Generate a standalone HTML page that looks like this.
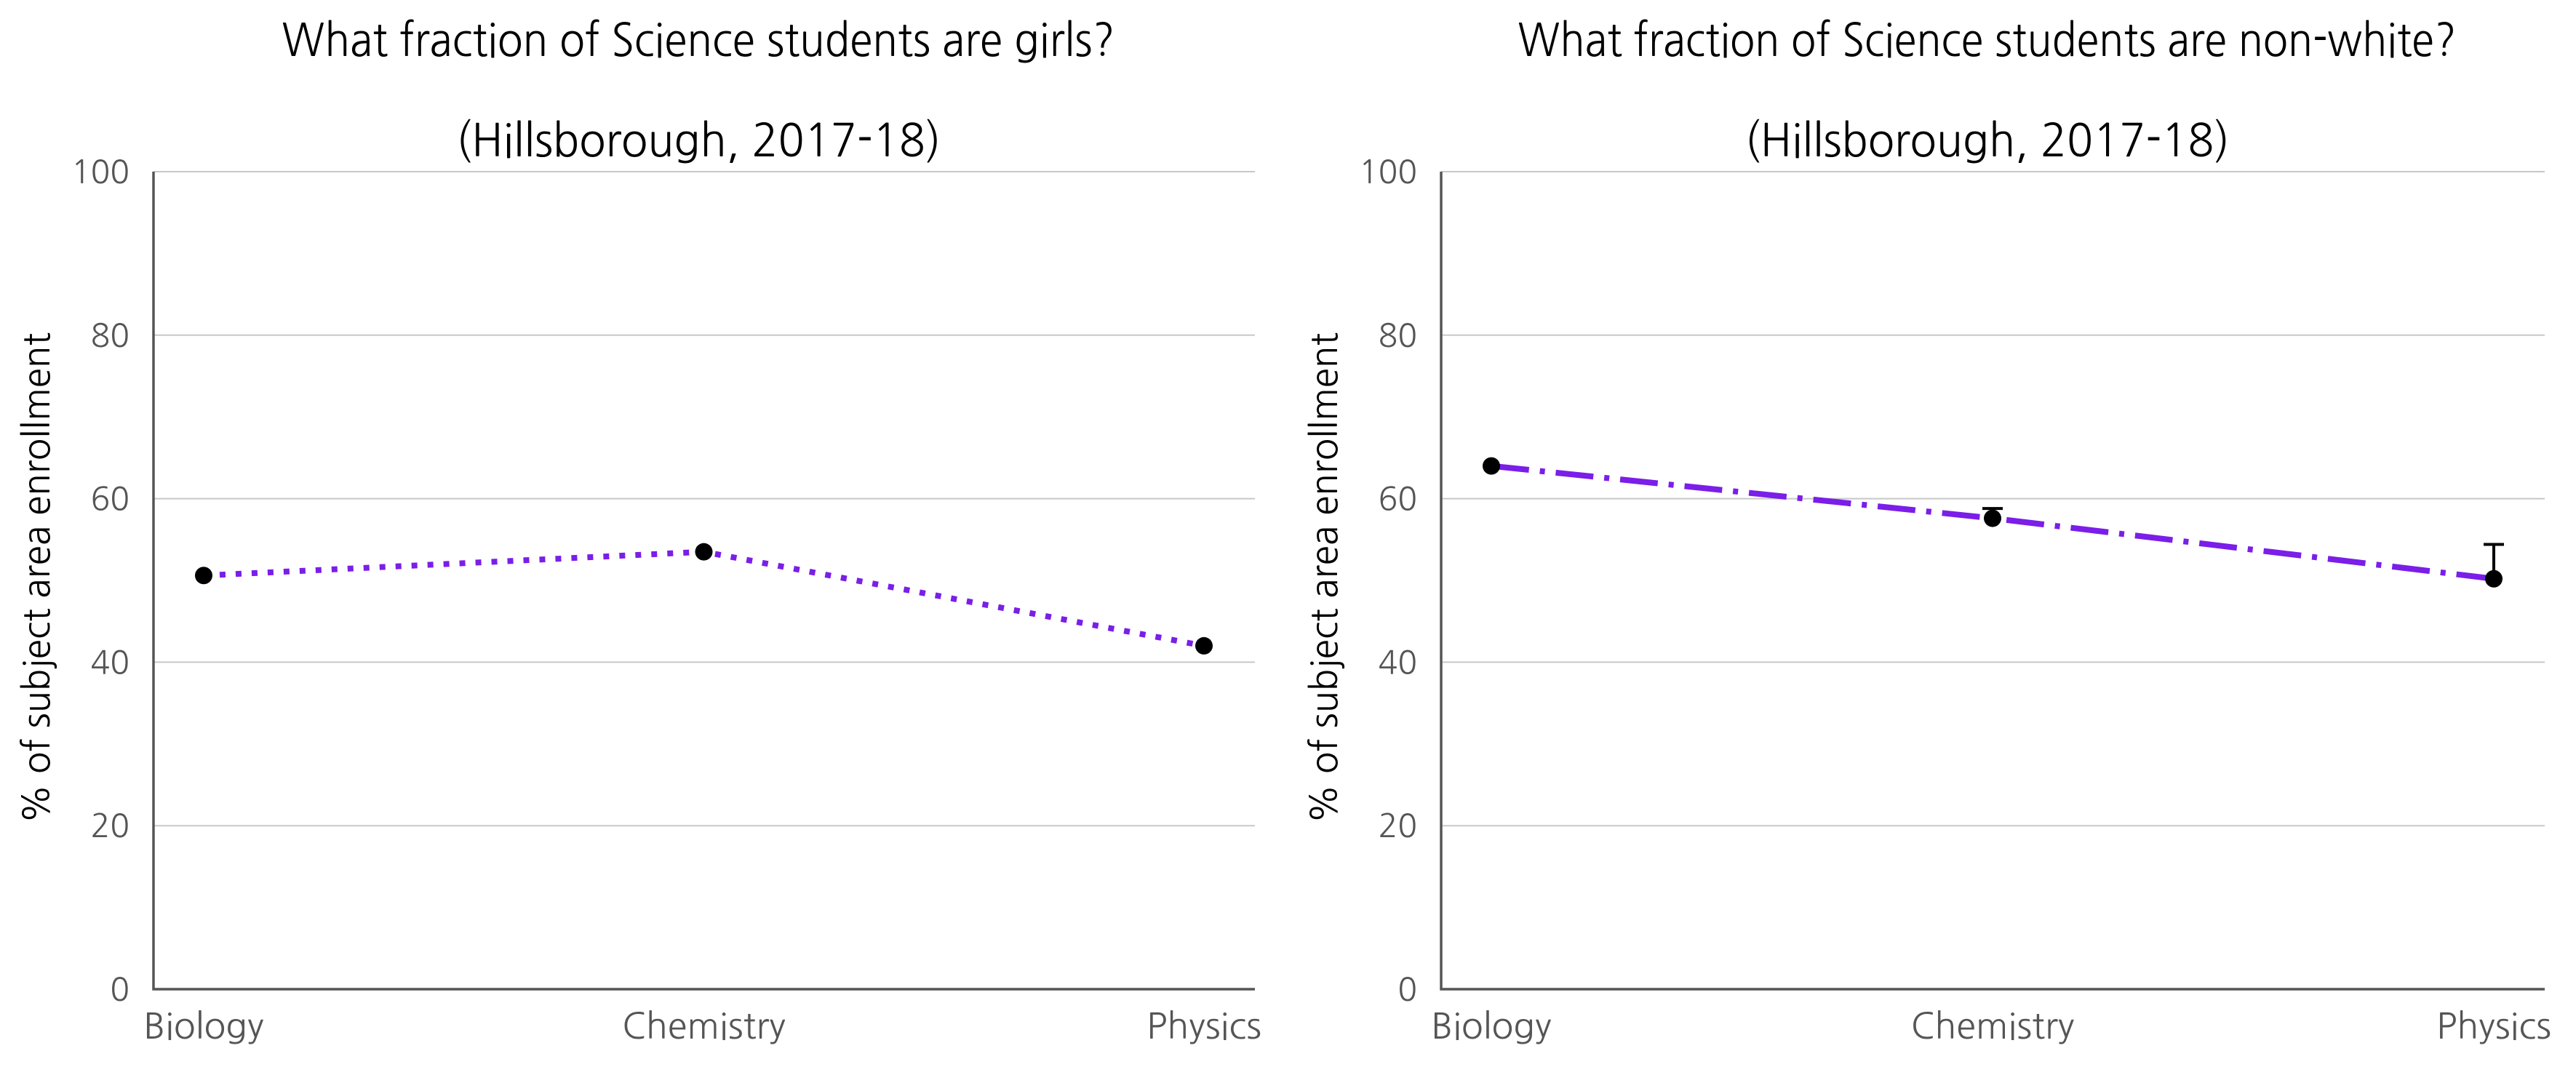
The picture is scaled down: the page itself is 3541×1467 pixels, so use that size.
<!DOCTYPE html>
<html><head><meta charset="utf-8"><style>
html,body{margin:0;padding:0;background:#fff;}
svg{display:block;font-family:"NanumGothic","Liberation Sans",sans-serif;}
</style></head><body>
<svg id="c" width="3541" height="1467" viewBox="0 0 3541 1467" xmlns="http://www.w3.org/2000/svg"></svg>
<script>
const categories = ["Biology","Chemistry","Physics"];
const girlsValues = [50.6, 53.5, 42.0];
const nonwhiteValues = [64.0, 57.6, 50.2];
const nonwhiteUpper = [null, 58.8, 54.4];
const yTicks = [0,20,40,60,80,100];
const NS="http://www.w3.org/2000/svg";
const svg=document.getElementById('c');
function mk(tag,attrs,parent,text){const e=document.createElementNS(NS,tag);for(const k in attrs)e.setAttribute(k,attrs[k]);if(text!==undefined)e.textContent=text;(parent||svg).appendChild(e);return e;}
const yTop=236, yBot=1360;
function yScale(v){return yBot-(v/100)*(yBot-yTop);}
function panel(name,axisX,rightX,title1,t1len,values,dash,upper){
  const g=mk('g',{});
  
  
  const xScale=i=>axisX+69+i*((rightX-axisX-70-69)/2);
  yTicks.forEach(t=>{
    if(t>0){const l=mk('line',{x1:axisX,x2:rightX,y1:yScale(t),y2:yScale(t),stroke:'#c8c8c8','stroke-width':2},g);
    
    }
    const tx=mk('text',{x:axisX-33,y:yScale(t)+16,'text-anchor':'end','font-size':44,fill:'#555'},g,String(t));
    
    
  });
  const ax=mk('path',{d:`M${axisX} ${yTop} V${yBot} H${rightX}`,fill:'none',stroke:'#555','stroke-width':3.5},g);
  
  
  categories.forEach((c,i)=>{
    const t=mk('text',{x:xScale(i),y:1428,'text-anchor':'middle','font-size':49,fill:'#555'},g,c);
    
    
  });
  const yl=mk('text',{x:0,y:0,transform:`translate(${axisX-143},795) rotate(-90)`,'text-anchor':'middle','font-size':50,fill:'#000'},g,'% of subject area enrollment');
  
  
  const cx=(axisX+rightX)/2;
  const t1=mk('text',{x:cx-8,y:77,'text-anchor':'middle','font-size':62,fill:'#000',textLength:t1len,lengthAdjust:'spacingAndGlyphs'},g,title1);
  
  
  const t2=mk('text',{x:cx-8,y:215,'text-anchor':'middle','font-size':62,fill:'#000',textLength:667,lengthAdjust:'spacingAndGlyphs'},g,'(Hillsborough, 2017-18)');
  
  
  const pts=values.map((v,i)=>xScale(i)+','+yScale(v)).join(' ');
  const ln=mk('polyline',{points:pts,fill:'none',stroke:'#7a1ee8','stroke-width':8,'stroke-dasharray':dash},g);
  
  
  if(upper){upper.forEach((u,i)=>{if(u==null)return;
    const e=mk('path',{d:`M${xScale(i)} ${yScale(values[i])} V${yScale(u)} M${xScale(i)-14} ${yScale(u)} H${xScale(i)+14}`,stroke:'#000','stroke-width':4,fill:'none'},g);
    
    
  });}
  values.forEach((v,i)=>{
    const p=mk('circle',{cx:xScale(i),cy:yScale(v),r:12,fill:'#000'},g);
    
    
  });
}
panel('girls-panel',211,1725,'What fraction of Science students are girls?',1145,girlsValues,'8 14',null);
panel('nonwhite-panel',1981,3498,'What fraction of Science students are non-white?',1290,nonwhiteValues,'52 15 7 15',nonwhiteUpper);
</script>
</body></html>
